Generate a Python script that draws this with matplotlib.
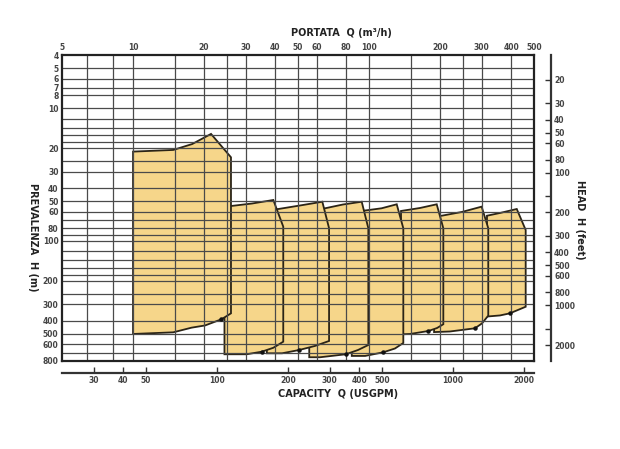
import matplotlib
matplotlib.use("Agg")
import matplotlib.pyplot as plt
from matplotlib.ticker import FixedLocator, FixedFormatter, NullLocator, NullFormatter

# - AXIS VALUES - #
q_m3h_ticks = [5, 10, 20, 30, 40, 50, 60, 80, 100, 200, 300, 400, 500]
h_m_ticks = [4, 5, 6, 7, 8, 10, 20, 30, 40, 50, 60, 80, 100, 200, 300, 400, 500, 600, 800]
q_gpm_ticks = [30, 40, 50, 100, 200, 300, 400, 500, 1000, 2000]
h_ft_ticks = [20, 30, 40, 50, 60, 80, 100, 200, 300, 400, 500, 600, 800, 1000, 2000]
h_ft_minor = [150, 1500]

grid_q = [6.4, 8.2, 10, 15, 20, 25, 30, 40, 50, 60, 80, 100, 150, 200, 250, 300, 400]
grid_h = [5, 6, 7, 8, 10, 12, 14, 16, 18, 20, 25, 30, 40, 50, 60, 70, 80, 90, 100,
          120, 140, 160, 180, 200, 250, 300, 400, 500, 600, 700]

# - PUMP FIELDS (Q in m3/h, H in m) - #
field1_q = [10, 14.8, 17.8, 21.4, 26.0, 26.0, 23.7, 20.2, 17.7, 14.8, 10]
field1_h = [21.2, 20.6, 18.6, 15.6, 23.4, 351, 389, 433, 450, 488, 502]
field2_q = [24.4, 26.0, 31.9, 39.3, 43.3, 43.3, 39.3, 35.1, 30.3, 24.4]
field2_h = [55.5, 54.5, 52.2, 49.1, 78.0, 574, 638, 683, 714, 714]
field3_q = [36.9, 41.3, 51.0, 63.4, 67.7, 67.7, 59.0, 50.6, 42.8, 36.9]
field3_h = [58.3, 57.4, 54.0, 50.6, 80.2, 567, 618, 663, 702, 702]
field4_q = [55.8, 65.1, 77.5, 93.1, 99.3, 99.3, 89.8, 79.8, 62.0, 55.8]
field4_h = [57.4, 56.7, 53.1, 50.6, 80.2, 608, 663, 714, 752, 752]
field5_q = [84.5, 93.1, 113, 131, 139.7, 139.7, 128.8, 114.9, 96.2, 84.5]
field5_h = [59.4, 59.4, 56.7, 52.9, 80.2, 587, 646, 690, 735, 735]
field6_q = [136.6, 164.4, 193.5, 206.4, 206.4, 194, 178.3, 149.2, 136.6]
field6_h = [59.4, 56.4, 52.9, 80.2, 424, 453, 477, 502, 505]
field7_q = [188.6, 203.2, 247.7, 300, 320, 320, 301, 281, 220, 188.6]
field7_h = [64.8, 64.5, 60.4, 55.1, 80.2, 365, 418, 455, 481, 486]
field8_q = [316, 358.9, 422.5, 461, 461, 395, 358.9, 316]
field8_h = [64.5, 61.5, 57.4, 82.6, 313, 351, 364, 371]

# best efficiency marks on the lower curves
dot_q = [23.7, 35.1, 50.6, 79.8, 114.9, 178.3, 281, 395]
dot_h = [389, 683, 663, 714, 690, 477, 455, 351]

fields = [(field1_q, field1_h), (field2_q, field2_h), (field3_q, field3_h),
          (field4_q, field4_h), (field5_q, field5_h), (field6_q, field6_h),
          (field7_q, field7_h), (field8_q, field8_h)]

M3H_TO_GPM = 4.4029
M_TO_FT = 1 / 0.3048
fill_col = "#f6d68a"
edge_col = "#2b2416"
txt_col = "#444444"

fig = plt.figure(figsize=(6.2, 4.49), dpi=100)
ax = fig.add_axes([0.1, 0.1964, 0.7613, 0.680])
ax.set_xscale("log")
ax.set_yscale("log")
ax.set_xlim(5, 500)
ax.set_ylim(800, 4)

# fields: first one on top
n = len(fields)
for i, (q, h) in enumerate(fields):
    z = 1 + (n - i) * 0.05
    ax.fill(q, h, facecolor=fill_col, edgecolor=edge_col, linewidth=1.3, zorder=z)

# grid over the fields
for g in grid_q:
    ax.axvline(g, color="#4a4a4a", linewidth=0.9, zorder=2)
for g in grid_h:
    ax.axhline(g, color="#4a4a4a", linewidth=0.9, zorder=2)

ax.plot(dot_q, dot_h, "o", color="#111111", markersize=2.2, zorder=3)

# feet axis on the right
ax2 = ax.twinx()
ax2.set_yscale("log")
ax2.set_ylim(800 * M_TO_FT, 4 * M_TO_FT)
for name, sp in ax2.spines.items():
    sp.set_visible(name == "right")
ax2.spines["right"].set_position(("outward", 12))
ax2.spines["right"].set_linewidth(1.6)
ax2.spines["right"].set_color("#333333")
ax2.yaxis.set_major_locator(FixedLocator(h_ft_ticks))
ax2.yaxis.set_major_formatter(FixedFormatter([str(v) for v in h_ft_ticks]))
ax2.yaxis.set_minor_locator(FixedLocator(h_ft_minor))
ax2.yaxis.set_minor_formatter(NullFormatter())
ax2.tick_params(which="both", direction="in", length=4, width=1, color="#333333",
                labelsize=5.5, labelcolor=txt_col, pad=2.5)
for lab in ax2.get_yticklabels():
    lab.set_fontweight("bold")

# USGPM axis below
ax3 = ax.twiny()
ax3.set_xscale("log")
ax3.set_xlim(5 * M3H_TO_GPM, 500 * M3H_TO_GPM)
for name, sp in ax3.spines.items():
    sp.set_visible(name == "bottom")
ax3.spines["bottom"].set_position(("outward", 9))
ax3.spines["bottom"].set_linewidth(1.6)
ax3.spines["bottom"].set_color("#333333")
ax3.xaxis.set_ticks_position("bottom")
ax3.xaxis.set_label_position("bottom")
ax3.xaxis.set_major_locator(FixedLocator(q_gpm_ticks))
ax3.xaxis.set_major_formatter(FixedFormatter([str(v) for v in q_gpm_ticks]))
ax3.xaxis.set_minor_locator(NullLocator())
ax3.tick_params(which="both", direction="in", length=4, width=1, color="#333333",
                labelsize=5.5, labelcolor=txt_col, pad=2)
for lab in ax3.get_xticklabels():
    lab.set_fontweight("bold")

# main axes ticks: m3/h on top, m on the left (after the twins, which reset them)
ax.xaxis.set_major_locator(FixedLocator(q_m3h_ticks))
ax.xaxis.set_major_formatter(FixedFormatter([str(v) for v in q_m3h_ticks]))
ax.xaxis.set_minor_locator(NullLocator())
ax.xaxis.tick_top()
ax.yaxis.set_major_locator(FixedLocator(h_m_ticks))
ax.yaxis.set_major_formatter(FixedFormatter([str(v) for v in h_m_ticks]))
ax.yaxis.set_minor_locator(NullLocator())
ax.yaxis.tick_left()
ax.tick_params(which="both", length=0, labelsize=5.5, labelcolor=txt_col, pad=2.5)
for lab in ax.get_xticklabels() + ax.get_yticklabels():
    lab.set_fontweight("bold")
for sp in ax.spines.values():
    sp.set_linewidth(1.6)
    sp.set_color("#222222")
    sp.set_zorder(4)

# axis titles
fig.text(341 / 620, 1 - 33 / 449, "PORTATA  Q (m³/h)", ha="center", va="center",
         fontsize=7, fontweight="bold", color="#222222")
fig.text(338 / 620, 1 - 394 / 449, "CAPACITY  Q (USGPM)", ha="center", va="center",
         fontsize=7, fontweight="bold", color="#222222")
fig.text(33 / 620, 1 - 237 / 449, "PREVALENZA  H (m)", ha="center", va="center",
         rotation=270, fontsize=7, fontweight="bold", color="#222222")
fig.text(580 / 620, 1 - 220 / 449, "HEAD  H (feet)", ha="center", va="center",
         rotation=270, fontsize=7, fontweight="bold", color="#222222")

fig.savefig("out.png", dpi=100)
